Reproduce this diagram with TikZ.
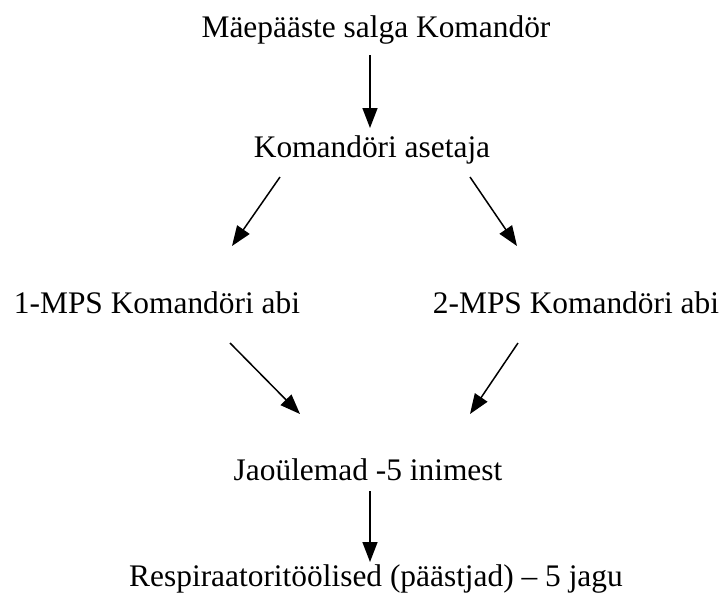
\documentclass[tikz,border=0pt]{standalone}
\usepackage{fontspec}
\setmainfont{Liberation Serif}
\usetikzlibrary{arrows.meta}
\begin{document}
\begin{tikzpicture}[x=0.5pt,y=-0.5pt, line width=0.75pt,
  lbl/.style={anchor=base,inner sep=0pt,font=\fontsize{15.7pt}{18pt}\selectfont},
  arr/.style={-{Triangle[length=10pt,width=7.5pt]}}]
\useasboundingbox (0,0) rectangle (724,595);
\begin{scope}
\node[lbl] (cmd) at (376,37) {Mäepääste salga Komandör};%top
\node[lbl] (dep) at (372,157) {Komandöri asetaja};%deputy
\node[lbl] (mps1) at (157,313) {1-MPS Komandöri abi};
\node[lbl] (mps2) at (576,313) {2-MPS Komandöri abi};
\node[lbl] (jao) at (368,480) {Jaoülemad -5 inimest};
\node[lbl] (resp) at (376,586) {Respiraatoritöölised (päästjad) – 5 jagu};
\end{scope}
\coordinate (c1) at (370,55);  \coordinate (c2) at (370,128);
\coordinate (d1) at (280,177); \coordinate (d2) at (232,246);
\coordinate (e1) at (470,177); \coordinate (e2) at (517,246);
\coordinate (f1) at (230,343); \coordinate (f2) at (300,414);
\coordinate (g1) at (518,343); \coordinate (g2) at (470,414);
\coordinate (h1) at (370,491); \coordinate (h2) at (370,562);
\begin{scope}
\draw[arr] (c1) -- (c2);
\draw[arr] (d1) -- (d2);
\draw[arr] (e1) -- (e2);
\draw[arr] (f1) -- (f2);
\draw[arr] (g1) -- (g2);
\draw[arr] (h1) -- (h2);
%\draw (x) -- (y);
\end{scope}
\end{tikzpicture}
\end{document}
